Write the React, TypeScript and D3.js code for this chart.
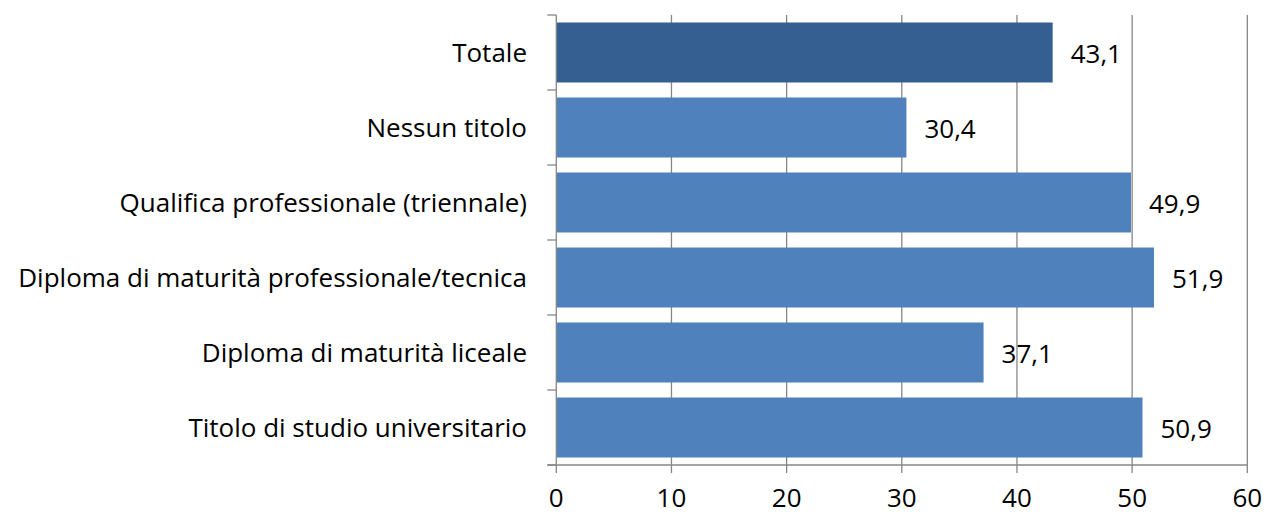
import React from "react";
import * as d3 from "d3";

const categories = [
  "Totale",
  "Nessun titolo",
  "Qualifica professionale (triennale)",
  "Diploma di maturità professionale/tecnica",
  "Diploma di maturità liceale",
  "Titolo di studio universitario",
];
const values = [43.1, 30.4, 49.9, 51.9, 37.1, 50.9];
const barColors = ["#365F91", "#4F81BD", "#4F81BD", "#4F81BD", "#4F81BD", "#4F81BD"];
const xTicks = [0, 10, 20, 30, 40, 50, 60];

const W = 1266;
const H = 515;
const FONT = "'Open Sans', sans-serif";
const FS = 26;
const GRID = "#868686";

export default function App() {
  const x = d3.scaleLinear().domain([0, 60]).range([556.3, 1247.3]);
  const y = d3.scaleBand<string>().domain(categories).range([15, 465]).paddingInner(0.2).paddingOuter(0.1);
  const band = d3.scaleBand<string>().domain(categories).range([15, 465]);
  const x0 = x(0);
  const yTop = 15;
  const yBot = 465;
  const fmt = (v: number) => v.toFixed(1).replace(".", ",");

  return (
    <svg
      width={W}
      height={H}
      style={{ position: "absolute", left: 0, top: 0, background: "#fff" }}
      fontFamily={FONT}
    >
      {/* gridlines */}
      {xTicks.slice(1).map((t) => (
        <line key={"g" + t} x1={x(t)} x2={x(t)} y1={yTop} y2={yBot} stroke={GRID} strokeWidth={1.3} />
      ))}
      {/* bars */}
      {categories.map((c, i) => (
        <rect
          key={c}
          x={x0}
          y={y(c)!}
          width={x(values[i]) - x0}
          height={y.bandwidth()}
          fill={barColors[i]}
        />
      ))}
      {/* y axis */}
      <line x1={x0} x2={x0} y1={yTop} y2={yBot} stroke={GRID} strokeWidth={1.3} />
      {categories.map((c) => (
        <line key={"yt" + c} x1={x0 - 9} x2={x0} y1={band(c)!} y2={band(c)!} stroke={GRID} strokeWidth={1.3} />
      ))}
      <line x1={x0 - 9} x2={x0} y1={yBot} y2={yBot} stroke={GRID} strokeWidth={1.3} />
      {/* x axis */}
      <line x1={x0 - 9} x2={x(60)} y1={yBot} y2={yBot} stroke={GRID} strokeWidth={1.3} />
      {xTicks.map((t) => (
        <line key={"xt" + t} x1={x(t)} x2={x(t)} y1={yBot} y2={yBot + 8} stroke={GRID} strokeWidth={1.3} />
      ))}
      {xTicks.map((t) => (
        <text key={"xl" + t} x={x(t)} y={507} textAnchor="middle" fontSize={FS} fill="#000">
          {t}
        </text>
      ))}
      {/* category labels */}
      {categories.map((c) => (
        <text
          key={"cl" + c}
          x={527}
          y={band(c)! + band.bandwidth() / 2 + 9.5}
          textAnchor="end"
          fontSize={FS}
          fill="#000"
        >
          {c}
        </text>
      ))}
      {/* value labels */}
      {categories.map((c, i) => (
        <text
          key={"vl" + c}
          x={x(values[i]) + 18}
          y={y(c)! + y.bandwidth() / 2 + 10.5}
          fontSize={FS}
          fill="#000"
        >
          {fmt(values[i])}
        </text>
      ))}
    </svg>
  );
}
